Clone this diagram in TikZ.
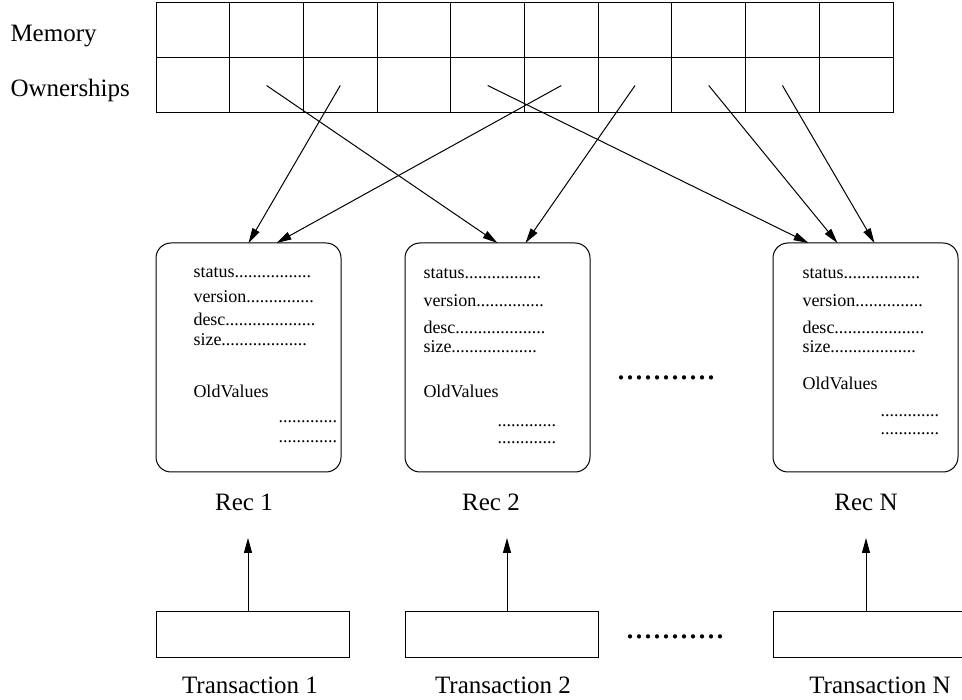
\documentclass[tikz,border=0pt]{standalone}
\usepackage{fontspec}
\setmainfont{Liberation Serif}
\usetikzlibrary{arrows.meta,calc}

\begin{document}
\begin{tikzpicture}[x=1pt,y=-1pt,line width=1pt,
    cell/.style={draw,minimum width=73.7pt,minimum height=55pt,inner sep=0pt,outer sep=0pt},
    recbox/.style={draw,rounded corners=15pt,minimum width=185pt,minimum height=229pt,inner sep=0pt,outer sep=0pt},
    tbox/.style={draw,minimum width=193pt,minimum height=46pt,inner sep=0pt,outer sep=0pt},
    lbl/.style={font=\fontsize{25}{29}\selectfont,inner sep=0pt},
    field/.style={font=\fontsize{18}{20}\selectfont,anchor=base west,inner sep=0pt},
    gapdots/.style={font=\fontsize{36}{38}\selectfont,inner sep=0pt},
    ptr/.style={-{Triangle[length=15pt,width=8pt]}}]
  \useasboundingbox (0,0) rectangle (962,700);

  % memory and ownership rows
  \node[lbl,anchor=base west] (mem) at (10,42) {Memory};
  \node[lbl,anchor=base west] (own) at (10,97) {Ownerships};
  \foreach \i in {1,...,10} {
    \node[cell] (m\i) at ({156+73.7*(\i-0.5)},30.5) {};
    \node[cell] (o\i) at ({156+73.7*(\i-0.5)},85.5) {};
  }

  % records
  \node[recbox] (r1) at (248.5,357.5) {};
  \node[recbox] (r2) at (497.5,357.5) {};
  \node[recbox] (rN) at (865.5,357.5) {};

  \node[field] (r1s) at (193,278) {status.................};
  \node[field] (r1v) at (193,303) {version...............};
  \node[field] (r1d) at (193,326) {desc....................};
  \node[field] (r1z) at (193,346) {size...................};
  \node[field] (r1o) at (193,398) {OldValues};
  \node[field] (r1a) at (278,423) {.............};
  \node[field] (r1b) at (278,443) {.............};

  \node[field] (r2s) at (423,279) {status.................};
  \node[field] (r2v) at (423,307) {version...............};
  \node[field] (r2d) at (423,334) {desc....................};
  \node[field] (r2z) at (423,353) {size...................};
  \node[field] (r2o) at (423,398) {OldValues};
  \node[field] (r2a) at (497,427) {.............};
  \node[field] (r2b) at (497,444) {.............};

  \node[field] (rNs) at (802,279) {status.................};
  \node[field] (rNv) at (802,307) {version...............};
  \node[field] (rNd) at (802,334) {desc....................};
  \node[field] (rNz) at (802,353) {size...................};
  \node[field] (rNo) at (802,390) {OldValues};
  \node[field] (rNa) at (880,417) {.............};
  \node[field] (rNb) at (880,435) {.............};

  \node[gapdots] (g1) at (666,378) {...........};

  % ownership pointers
  \draw[ptr] (o3.center) -- (r1.north);
  \draw[ptr] (o6.center) -- ($(r1.north)+(28,0)$);
  \draw[ptr] (o2.center) -- (r2.north);
  \draw[ptr] (o7.center) -- ($(r2.north)+(28,0)$);
  \draw[ptr] (o5.center) -- ($(rN.north)+(-57,0)$);
  \draw[ptr] (o8.center) -- ($(rN.north)+(-28,0)$);
  \draw[ptr] (o9.center) -- ($(rN.north)+(9,0)$);

  \node[lbl,anchor=base] (l1) at (244,511) {Rec 1};
  \node[lbl,anchor=base] (l2) at (491,511) {Rec 2};
  \node[lbl,anchor=base] (lN) at (866,511) {Rec N};

  % transactions
  \node[tbox] (t1) at (252.5,634) {};
  \node[tbox] (t2) at (501.5,634) {};
  \node[tbox] (tN) at (869.5,634) {};
  \node[gapdots] (g2) at (675,637) {...........};

  \coordinate (p1) at (248,538);
  \coordinate (p2) at (507,538);
  \coordinate (pN) at (866,538);
  \draw[ptr] (p1 |- t1.north) -- (p1);
  \draw[ptr] (p2 |- t2.north) -- (p2);
  \draw[ptr] (pN |- tN.north) -- (pN);

  \node[lbl,anchor=base] (n1) at (250,693) {Transaction 1};
  \node[lbl,anchor=base] (n2) at (503,693) {Transaction 2};
  \node[lbl,anchor=base] (nN) at (880,693) {Transaction N};
\end{tikzpicture}
\end{document}
